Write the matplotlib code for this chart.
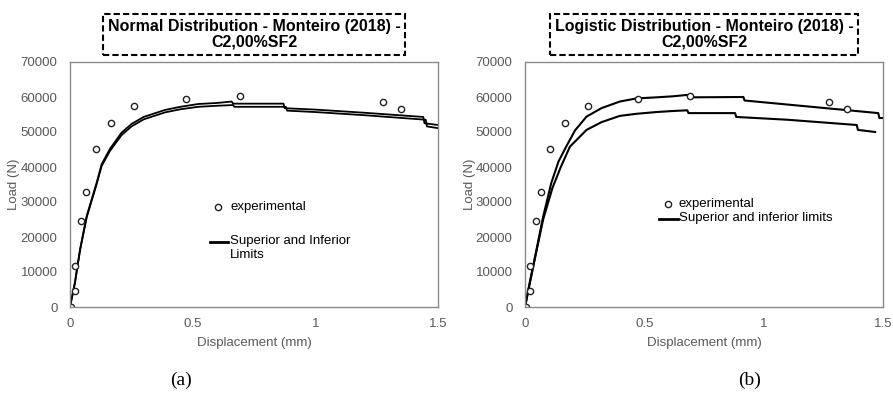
import matplotlib
matplotlib.use("Agg")
import matplotlib.pyplot as plt
from matplotlib.lines import Line2D

plt.rcParams["font.family"] = ["Liberation Sans", "DejaVu Sans"]

# experimental points (same test in both panels)
exp_x = [0.004, 0.019, 0.022, 0.044, 0.065, 0.105, 0.167, 0.262, 0.473, 0.693, 1.274, 1.351]
exp_y = [0, 4600, 11700, 24700, 33000, 45100, 52500, 57500, 59300, 60300, 58500, 56600]

# normal distribution limits
norm_sup_x = [0, 0.02, 0.041, 0.068, 0.109, 0.129, 0.163, 0.21, 0.251, 0.3, 0.387, 0.45,
              0.523, 0.6, 0.659, 0.665, 0.87, 0.875, 1.0, 1.2, 1.44, 1.445, 1.5]
norm_sup_y = [0, 7000, 16500, 26000, 35600, 40800, 45200, 49800, 52300, 54300, 56300, 57200,
              58000, 58300, 58700, 58100, 58100, 56800, 56400, 55500, 54300, 52500, 52000]
norm_inf_x = [0, 0.02, 0.041, 0.068, 0.109, 0.129, 0.163, 0.21, 0.251, 0.3, 0.387, 0.45,
              0.523, 0.6, 0.665, 0.67, 0.88, 0.885, 1.0, 1.2, 1.45, 1.455, 1.5]
norm_inf_y = [0, 6800, 16200, 25600, 35200, 40300, 44600, 49100, 51600, 53600, 55600, 56500,
              57200, 57500, 57700, 57200, 57200, 56100, 55700, 54800, 53500, 51600, 51100]

# logistic distribution limits
log_sup_x = [0, 0.02, 0.048, 0.076, 0.11, 0.14, 0.17, 0.21, 0.258, 0.32, 0.397, 0.467,
             0.55, 0.62, 0.68, 0.685, 0.915, 0.92, 1.2, 1.48, 1.485, 1.5]
log_sup_y = [0, 7000, 16300, 25800, 35400, 41500, 45500, 50500, 54400, 56800, 58700, 59600,
             59900, 60200, 60600, 59900, 60000, 59000, 57200, 55400, 54000, 54000]
log_inf_x = [0, 0.02, 0.048, 0.076, 0.115, 0.15, 0.188, 0.258, 0.32, 0.397, 0.467, 0.55,
             0.62, 0.68, 0.685, 0.88, 0.885, 1.1, 1.39, 1.395, 1.467]
log_inf_y = [0, 6800, 16000, 25000, 34000, 40000, 45800, 50600, 52800, 54600, 55200, 55700,
             56000, 56200, 55400, 55400, 54300, 53500, 52000, 50600, 50000]

x_ticks = [0, 0.5, 1, 1.5]
x_tick_labels = ["0", "0.5", "1", "1.5"]
y_ticks = [0, 10000, 20000, 30000, 40000, 50000, 60000, 70000]

titles = ["Normal Distribution - Monteiro (2018) -\nC2,00%SF2",
          "Logistic Distribution - Monteiro (2018) -\nC2,00%SF2"]
legend_labels = [["experimental", "Superior and Inferior\nLimits"],
                 ["experimental", "Superior and inferior limits"]]
panel_tags = ["(a)", "(b)"]

GRAY = "#595959"

fig = plt.figure(figsize=(8.93, 3.97), dpi=100)
ax1 = fig.add_axes([70 / 893, 1 - 307 / 397, 368 / 893, 245 / 397])
ax2 = fig.add_axes([525 / 893, 1 - 307 / 397, 358 / 893, 245 / 397])


def style_axes(ax, title):
    ax.set_xlim(0, 1.5)
    ax.set_ylim(0, 70000)
    ax.set_xticks(x_ticks)
    ax.set_xticklabels(x_tick_labels)
    ax.set_yticks(y_ticks)
    ax.tick_params(length=0, labelsize=9.5, labelcolor=GRAY)
    ax.tick_params(axis="y", pad=9)
    ax.tick_params(axis="x", pad=8)
    for s in ax.spines.values():
        s.set_color("#8a8a8a")
        s.set_linewidth(1.0)
    ax.set_xlabel("Displacement (mm)", fontsize=9.5, color=GRAY, labelpad=5)
    ax.set_ylabel("Load (N)", fontsize=9.5, color=GRAY, labelpad=0)
    ax.set_title(title, fontsize=11.5, fontweight="bold", pad=11, linespacing=1.1,
                 bbox=dict(boxstyle="square,pad=0.3", fc="white", ec="black",
                           ls=(0, (3, 1.5)), lw=1.5))


def draw_key(ax, labels, mark_xy, line_x, line_y, text_x):
    # hand-placed key, the original one aligns the line with the first text row
    ax.add_line(Line2D([mark_xy[0]], [mark_xy[1]], transform=ax.transAxes, ls="none",
                       marker="o", ms=4.5, mfc="white", mec="#222222", mew=1.0))
    ax.text(text_x, mark_xy[1], labels[0], transform=ax.transAxes, fontsize=9.5,
            va="center", ha="left")
    ax.add_line(Line2D(line_x, [line_y, line_y], transform=ax.transAxes,
                       color="black", lw=2))
    ax.text(text_x, line_y + 0.03, labels[1], transform=ax.transAxes, fontsize=9.5,
            va="top", ha="left", linespacing=1.3)


# panel (a)
ax1.plot(norm_sup_x, norm_sup_y, color="black", lw=1.3)
ax1.plot(norm_inf_x, norm_inf_y, color="black", lw=1.3)
ax1.plot(exp_x, exp_y, ls="none", marker="o", ms=4.5, mfc="white", mec="#222222", mew=1.0)
style_axes(ax1, titles[0])
draw_key(ax1, legend_labels[0], (0.402, 0.408), [0.380, 0.429], 0.265, 0.435)

# panel (b)
ax2.plot(log_sup_x, log_sup_y, color="black", lw=1.5)
ax2.plot(log_inf_x, log_inf_y, color="black", lw=1.5)
ax2.plot(exp_x, exp_y, ls="none", marker="o", ms=4.5, mfc="white", mec="#222222", mew=1.0)
style_axes(ax2, titles[1])
draw_key(ax2, legend_labels[1], (0.399, 0.42), [0.374, 0.427], 0.359, 0.430)

fig.text(181 / 893, 1 - 380 / 397, panel_tags[0], family="Liberation Serif",
         fontsize=14, ha="center", va="center")
fig.text(750 / 893, 1 - 380 / 397, panel_tags[1], family="Liberation Serif",
         fontsize=14, ha="center", va="center")

fig.savefig("out.png", dpi=100)
